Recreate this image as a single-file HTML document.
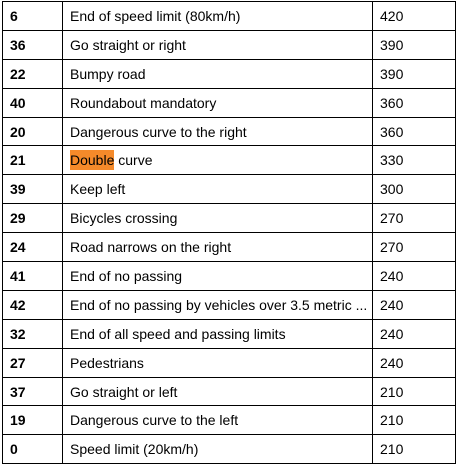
<!DOCTYPE html>
<html><head><meta charset="utf-8"><style>
body{margin:0;background:#fff;width:457px;height:466px;overflow:hidden}
table{position:absolute;left:2px;top:1px;border-collapse:collapse;font-family:"Liberation Sans",Arial,sans-serif;font-size:14px;color:#000;table-layout:fixed;width:453px}
td{border:1px solid #000;height:27.9px;padding:0 0 0 7px;white-space:nowrap;overflow:hidden;vertical-align:middle}
td.id{font-weight:bold}
.hl{background:#f58a2a}
</style></head><body>
<table>
<colgroup><col style="width:60px"><col style="width:310px"><col style="width:83px"></colgroup>
<tbody id="tb"></tbody>
</table>
<script>
const ids=[6,36,22,40,20,21,39,29,24,41,42,32,27,37,19,0];
const names=["End of speed limit (80km/h)","Go straight or right","Bumpy road","Roundabout mandatory","Dangerous curve to the right","Double curve","Keep left","Bicycles crossing","Road narrows on the right","End of no passing","End of no passing by vehicles over 3.5 metric ...","End of all speed and passing limits","Pedestrians","Go straight or left","Dangerous curve to the left","Speed limit (20km/h)"];
const counts=[420,390,390,360,360,330,300,270,270,240,240,240,240,210,210,210];
const tb=document.getElementById('tb');
ids.forEach((id,i)=>{
  const tr=document.createElement('tr');
  
  
  const a=document.createElement('td');a.className='id';a.textContent=id;
  
  
  const b=document.createElement('td');
  
  
  if(names[i].startsWith('Double')){b.innerHTML='<span class="hl" style="padding:2px 0">Double</span> curve';}
  else b.textContent=names[i];
  const c=document.createElement('td');c.textContent=counts[i];
  
  
  tr.append(a,b,c);tb.appendChild(tr);
});
</script>
</body></html>
